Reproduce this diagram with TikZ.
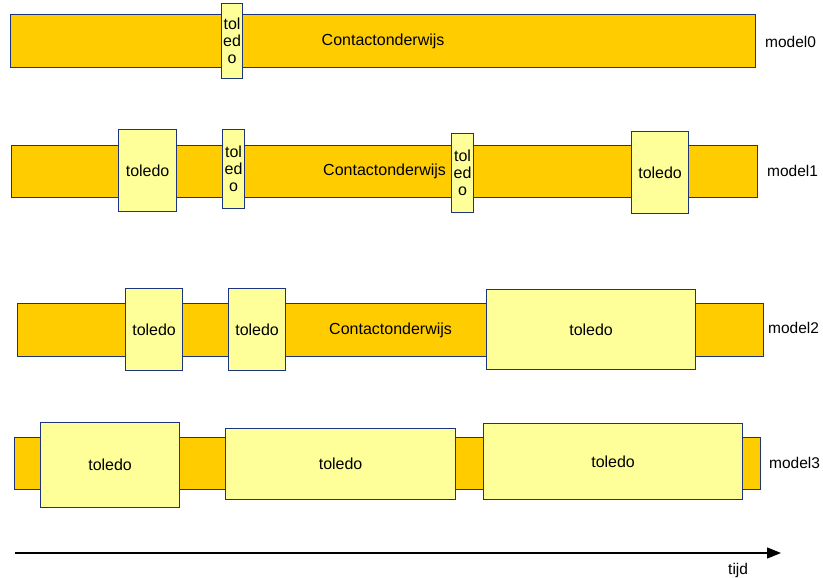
\documentclass[tikz,border=0pt]{standalone}
\usepackage{fontspec}
\setmainfont{Liberation Sans}
\usetikzlibrary{arrows.meta}
\definecolor{barfill}{HTML}{FFCC00}
\definecolor{boxfill}{HTML}{FFFF99}
\definecolor{edge}{HTML}{1C3480}
\tikzset{
  x=1pt, y=-1pt,
  base/.style={draw=edge, line width=1.2pt, inner sep=0pt, anchor=north west,
    font=\fontsize{16}{17}\selectfont, align=center},
  bar/.style={base, fill=barfill},
  tbox/.style={base, fill=boxfill},
  modellabel/.style={anchor=west, inner sep=0pt, font=\fontsize{15.5}{17}\selectfont},
}
% rectangle node from its top-left corner with given width and height
\newcommand{\blok}[6]{\node[#1, minimum width=#4pt, minimum height=#5pt] (#2) at (#3) {#6};}
\begin{document}
\begin{tikzpicture}
\useasboundingbox (0,0) rectangle (823,578);

% model0
\blok{bar}{b0}{10,14}{745}{53}{Contactonderwijs}
\blok{tbox}{t00}{221,3}{21}{75}{tol\\ed\\o}
\node[modellabel] (l0) at (765,42) {model0};

% model1
\blok{bar}{b1}{11,145}{746}{52}{Contactonderwijs}
\blok{tbox}{t10}{118,129}{58}{82}{toledo}
\blok{tbox}{t11}{222,129}{22}{79}{tol\\ed\\o}
\blok{tbox}{t12}{451,133}{22}{79}{tol\\ed\\o}
\blok{tbox}{t13}{631,131}{57}{82}{toledo}
\node[modellabel] (l1) at (767,171) {model1};

% model2
\blok{bar}{b2}{17,303}{746}{53}{Contactonderwijs}
\blok{tbox}{t20}{125,288}{57}{82}{toledo}
\blok{tbox}{t21}{228,288}{57}{82}{toledo}
\blok{tbox}{t22}{486,289}{209}{80}{toledo}
\node[modellabel] (l2) at (768,328) {model2};

% model3
\blok{bar}{b3}{14,437}{746}{52}{}
\blok{tbox}{t30}{40,422}{139}{85}{toledo}
\blok{tbox}{t31}{225,428}{230}{71}{toledo}
\blok{tbox}{t32}{483,423}{259}{76}{toledo}
\node[modellabel] (l3) at (769,463) {model3};

% time axis
\coordinate (ta) at (15,553);
\coordinate (tb) at (781,553);
\draw[line width=1.4pt, -{Triangle[length=14pt,width=11pt]}] (ta) -- (tb);
\node[modellabel] (tijd) at (728,570) {tijd};
\end{tikzpicture}
\end{document}
